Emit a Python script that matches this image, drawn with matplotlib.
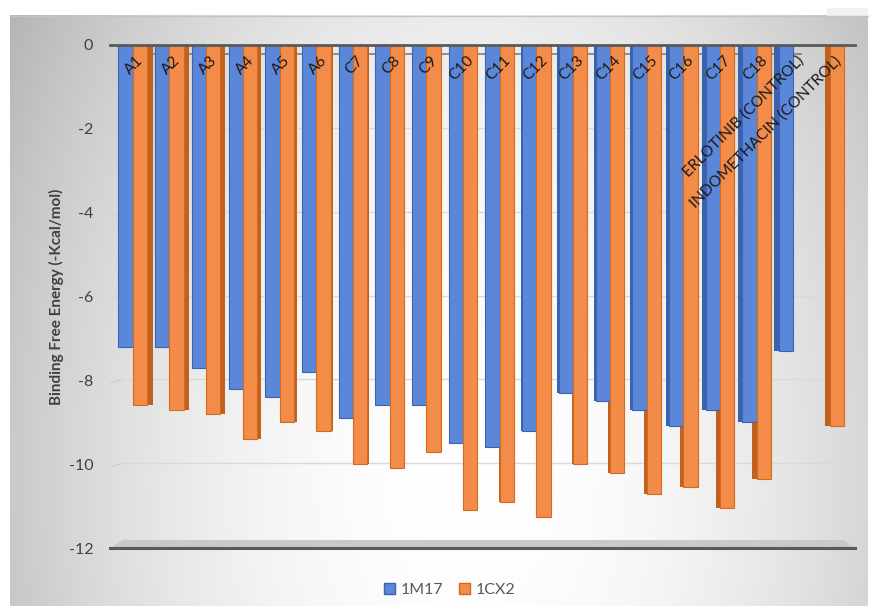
import numpy as np
import matplotlib
matplotlib.use("Agg")
import matplotlib.pyplot as plt
from matplotlib.patches import Polygon, Rectangle

categories = ["A1", "A2", "A3", "A4", "A5", "A6", "C7", "C8", "C9", "C10",
              "C11", "C12", "C13", "C14", "C15", "C16", "C17", "C18",
              "ERLOTINIB (CONTROL)", "INDOMETHACIN (CONTROL)"]
s1_name = "1M17"
s2_name = "1CX2"
s1_values = [-7.2, -7.2, -7.7, -8.2, -8.4, -7.8, -8.9, -8.6, -8.6, -9.5,
             -9.6, -9.2, -8.3, -8.5, -8.7, -9.1, -8.7, -9.0, -7.3, np.nan]
s2_values = [-8.6, -8.7, -8.8, -9.4, -9.0, -9.2, -10.0, -10.1, -9.7, -11.1,
             -10.9, -11.25, -10.0, -10.2, -10.7, -10.55, -11.05, -10.35, np.nan, -9.1]
y_ticks = [0, -2, -4, -6, -8, -10, -12]
y_label = "Binding Free Energy (-Kcal/mol)"

FONT = ["Lato", "DejaVu Sans"]
plt.rcParams["font.family"] = FONT

W, H = 875, 613
fig = plt.figure(figsize=(W / 100, H / 100), dpi=100)
fig.patch.set_facecolor("white")

# background gradient (chart area)
bg = fig.add_axes([0, 0, 1, 1], zorder=-10)
bg.set_xlim(0, W)
bg.set_ylim(H, 0)
bg.axis("off")
bg.add_patch(Rectangle((827, 8), 41, 8, facecolor="#f2f2f2", edgecolor="none"))
xx, yy = np.meshgrid(np.arange(10, 868), np.arange(15, 606))
d2 = ((xx - 470) / 560.0) ** 2 + ((yy - 470) / 900.0) ** 2
g = np.clip(255 - 80 * d2, 170, 255) / 255.0
img = np.dstack([g, g, g])
bg.imshow(img, extent=[10, 868, 606, 15], aspect="auto", interpolation="bilinear")
bg.plot([10, 868], [15.5, 15.5], color="#c4c4c4", lw=1.0)

# plot axes
L, R, T, B = 110, 855, 45, 548
ax = fig.add_axes([L / W, 1 - B / H, (R - L) / W, (B - T) / H])
ax.set_facecolor("none")
x = np.arange(len(categories))
ax.set_xlim(-0.62, len(categories) - 1 + 0.68)
ax.set_ylim(-12, 0)

# gridlines with small slanted wall segment
for v in y_ticks[1:-1]:
    ax.plot([-0.62, -0.30], [v - 0.07, v + 0.02], color="#d0d0d0", lw=1.0, zorder=0.5)
    ax.plot([-0.30, 19.45], [v + 0.02, v + 0.02], color="#d9d9d9", lw=1.0, zorder=0.5)

# floor
floor = Polygon([[-0.62, -12], [19.68, -12], [19.38, -11.81], [-0.27, -11.81]],
                closed=True, facecolor="#c9c9c9", edgecolor="none", zorder=0.6)
ax.add_patch(floor)
ax.plot([-0.62, 19.68], [-12.0, -12.0], color="#595959", lw=2.2, zorder=0.7, clip_on=False)

# top lines
ax.plot([-0.62, 19.68], [0, 0], color="#595959", lw=2.0, zorder=3, clip_on=False)
ax.plot([-0.35, 18.2], [-0.21, -0.21], color="#7f7f7f", lw=1.2, zorder=0.8)

bw = 0.39
c1, c1s, c1e = "#5b87d8", "#3b62ad", "#3a63b5"
c2, c2s, c2e = "#f28c48", "#c0611f", "#d46a22"
mid = 9.5
side = 0.15 * np.abs(x - mid) / mid

s1 = np.array(s1_values, dtype=float)
s2 = np.array(s2_values, dtype=float)
x1 = x - bw / 2
x2 = x + bw / 2
# side faces
for xs, vals, cs in [(x1, s1, c1s), (x2, s2, c2s)]:
    off = np.where(x < mid, bw / 2 + side / 2, -bw / 2 - side / 2)
    ax.bar(xs + off, vals, width=side, color=cs, edgecolor="none", zorder=1)
# fronts
ax.bar(x1, s1, width=bw, color=c1, edgecolor=c1e, linewidth=0.8, zorder=2)
ax.bar(x2, s2, width=bw, color=c2, edgecolor=c2e, linewidth=0.8, zorder=2)

# category labels inside the plot
for xi, lab in zip(x, categories):
    ax.text(xi + 0.10, -0.20, lab, rotation=45, rotation_mode="anchor",
            ha="right", va="top", fontsize=11.2, color="#1a1a1a", zorder=4)

ax.set_xticks([])
ax.set_yticks(y_ticks)
ax.set_yticklabels([str(v) for v in y_ticks], fontsize=11.5, color="#404040")
ax.tick_params(axis="y", length=0, pad=12)
for s in ax.spines.values():
    s.set_visible(False)
ax.set_ylabel(y_label, fontsize=11, fontweight="bold", color="#404040")
ax.yaxis.set_label_coords(-0.062, 0.5)

handles = [Rectangle((0, 0), 1, 1, facecolor=c1, edgecolor=c1e),
           Rectangle((0, 0), 1, 1, facecolor=c2, edgecolor=c2e)]
fig.legend(handles, [s1_name, s2_name], loc="center", bbox_to_anchor=(0.514, 0.0375),
           ncol=2, frameon=False, fontsize=11.5, labelcolor="#595959",
           handlelength=0.7, handleheight=0.7, handletextpad=0.35, columnspacing=1.0)

fig.savefig("out.png", dpi=100)
